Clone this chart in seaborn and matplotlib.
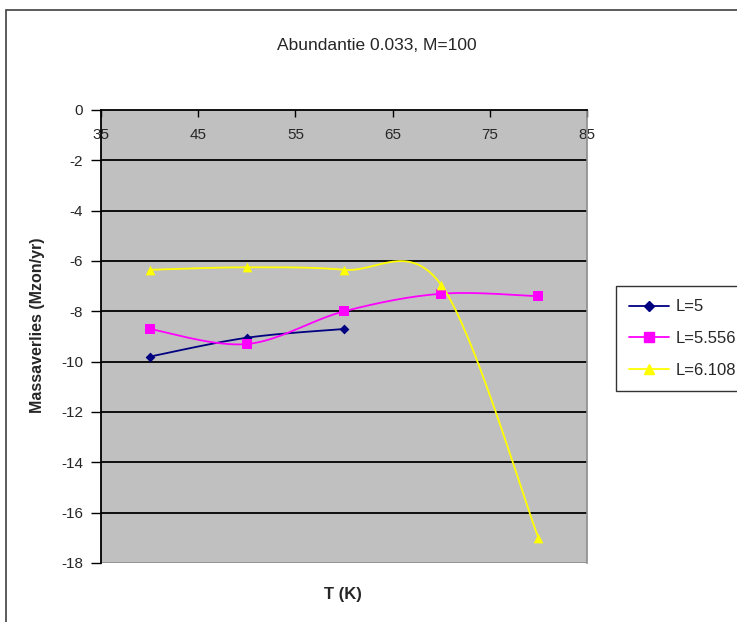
import numpy as np
import pandas as pd
import matplotlib
matplotlib.use("Agg")
import matplotlib.pyplot as plt
from matplotlib.lines import Line2D
from matplotlib.patches import Rectangle
import seaborn as sns

# ---- data ----
T_L5 = [40, 50, 60]
V_L5 = [-9.8, -9.05, -8.7]
T_L5556 = [40, 50, 60, 70, 80]
V_L5556 = [-8.7, -9.3, -8.0, -7.3, -7.4]
T_L6108 = [40, 50, 60, 70, 80]
V_L6108 = [-6.35, -6.25, -6.35, -6.95, -17.0]
series_names = ["L=5", "L=5.556", "L=6.108"]
x_ticks = [35, 45, 55, 65, 75, 85]
y_ticks = [0, -2, -4, -6, -8, -10, -12, -14, -16, -18]

colors = ["#000080", "#FF00FF", "#FFFF00"]
markers = ["D", "s", "^"]
msizes = [5, 6.5, 7]

sns.set_theme(style="white")
plt.rcParams['font.family'] = ['Liberation Sans', 'DejaVu Sans']


def smooth(xs, ys, n=40):
    """Excel-style smoothed line (Catmull-Rom bezier) through the points."""
    P = np.column_stack([xs, ys]).astype(float)
    out = []
    for i in range(len(P) - 1):
        p0 = P[i - 1] if i > 0 else P[i]
        p1 = P[i]
        p2 = P[i + 1]
        p3 = P[i + 2] if i + 2 < len(P) else P[i + 1]
        c1 = p1 + (p2 - p0) / 6.0
        c2 = p2 - (p3 - p1) / 6.0
        t = np.linspace(0, 1, n)[:, None]
        seg = ((1 - t) ** 3) * p1 + 3 * ((1 - t) ** 2) * t * c1 + 3 * (1 - t) * t ** 2 * c2 + t ** 3 * p2
        out.append(seg if i == 0 else seg[1:])
    return np.vstack(out)


fig = plt.figure(figsize=(7.37, 6.22), dpi=100)
fig.patch.set_facecolor("white")
# outer chart border
fig.add_artist(Rectangle((6 / 737, -0.1), 1.2, 1 - 10 / 622 + 0.1, transform=fig.transFigure,
                         fill=False, edgecolor="#404040", linewidth=1.2))

L, R, TOP, BOT = 101, 587, 110, 563
ax = fig.add_axes([L / 737, 1 - BOT / 622, (R - L) / 737, (BOT - TOP) / 622])
ax.set_facecolor("#C0C0C0")

data = [(T_L5, V_L5), (T_L5556, V_L5556), (T_L6108, V_L6108)]
for (xs, ys), name, c, m, ms in zip(data, series_names, colors, markers, msizes):
    curve = smooth(xs, ys)
    dfc = pd.DataFrame({"T": curve[:, 0], "v": curve[:, 1]})
    sns.lineplot(data=dfc, x="T", y="v", sort=False, ax=ax, color=c, linewidth=1.3, zorder=3)
    dfp = pd.DataFrame({"T": xs, "v": ys})
    sns.scatterplot(data=dfp, x="T", y="v", ax=ax, color=c, marker=m, s=ms ** 2,
                    edgecolor=c, linewidth=0, zorder=4)

ax.set_xlim(35, 85)
ax.set_ylim(-18, 0)
ax.set_yticks(y_ticks)
ax.set_yticklabels([str(v) for v in y_ticks], fontsize=11)
ax.set_xticks(x_ticks)
ax.set_xticklabels([str(v) for v in x_ticks], fontsize=11)

for y in y_ticks[1:-1]:
    ax.axhline(y, color="black", linewidth=1.3, zorder=1)

ax.spines['bottom'].set_position(('data', 0))
ax.spines['bottom'].set_color("black")
ax.spines['bottom'].set_linewidth(1.3)
ax.spines['left'].set_color("black")
ax.spines['left'].set_linewidth(1.3)
ax.spines['top'].set_visible(False)
ax.spines['right'].set_color("#8C8C8C")
ax.spines['right'].set_linewidth(1.2)
# bottom plot-area border
ax.axhline(-18, color="#8C8C8C", linewidth=1.2, zorder=2)

ax.tick_params(axis='x', direction='out', length=5, width=1, color="black", pad=8,
               bottom=True, labelbottom=True)
ax.tick_params(axis='y', direction='out', length=7, width=1, color="black", pad=6, left=True)
for lbl in ax.get_xticklabels():
    lbl.set_zorder(5)

ax.set_xlabel("")
ax.set_ylabel("")
fig.text(38 / 737, 1 - 325 / 622, "Massaverlies (Mzon/yr)", rotation=90, ha="center", va="center",
         fontsize=11.5, fontweight="bold")
fig.text(343 / 737, 1 - 595 / 622, "T (K)", ha="center", va="center", fontsize=12, fontweight="bold")
fig.text(377 / 737, 1 - 45 / 622, "Abundantie 0.033, M=100", ha="center", va="center", fontsize=12.5)

handles = [Line2D([0], [0], color=c, marker=m, markersize=ms, markeredgecolor=c, linewidth=1.3)
           for c, m, ms in zip(colors, markers, msizes)]
leg = fig.legend(handles, series_names, loc="upper left", bbox_to_anchor=(616 / 737, 1 - 286 / 622),
                 frameon=True, fontsize=12, handlelength=2.4, labelspacing=1.0, borderpad=0.8,
                 handletextpad=0.35, borderaxespad=0, fancybox=False)
leg.get_frame().set_edgecolor("black")
leg.get_frame().set_linewidth(1)

fig.savefig("out.png", dpi=100)
